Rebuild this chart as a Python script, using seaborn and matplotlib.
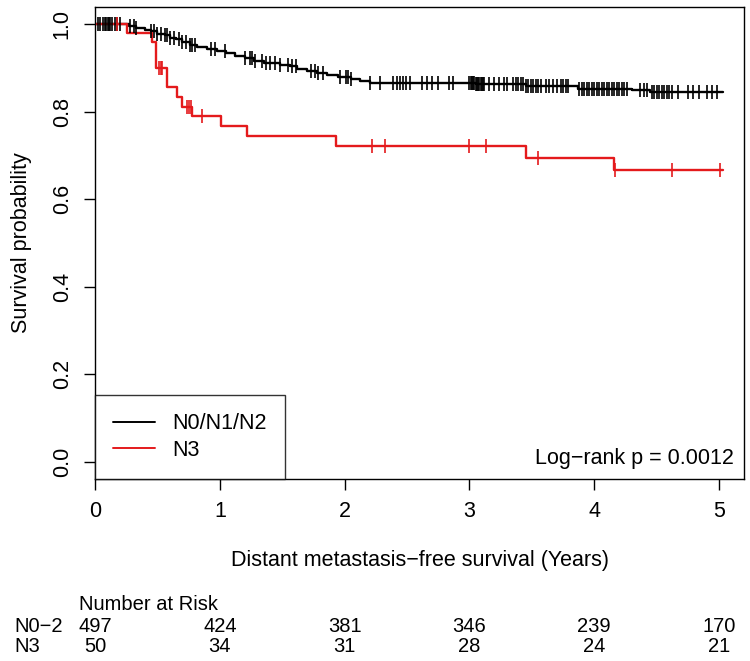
import numpy as np
import pandas as pd
import matplotlib
matplotlib.use("Agg")
from matplotlib import pyplot as plt
from matplotlib import transforms
import seaborn as sns

# Kaplan-Meier steps (time in years, survival after the step)
n02_times = [0.0, 0.27, 0.33, 0.40, 0.45, 0.50, 0.56, 0.60, 0.65, 0.70, 0.76, 0.82,
             0.90, 0.98, 1.05, 1.12, 1.20, 1.27, 1.35, 1.48, 1.56, 1.62, 1.70, 1.78,
             1.86, 1.95, 2.05, 2.12, 2.20, 3.05, 3.45, 3.87, 4.30, 4.45, 5.03]
n02_surv = [1.0, 0.996, 0.992, 0.988, 0.984, 0.979, 0.975, 0.970, 0.966, 0.961, 0.953, 0.949,
            0.945, 0.940, 0.935, 0.929, 0.923, 0.917, 0.911, 0.908, 0.904, 0.899, 0.894, 0.889,
            0.885, 0.880, 0.875, 0.871, 0.866, 0.863, 0.860, 0.853, 0.849, 0.846, 0.846]

n3_times = [0.0, 0.26, 0.46, 0.49, 0.58, 0.66, 0.70, 0.78, 1.01, 1.22, 1.93, 3.45, 4.16, 5.03]
n3_surv = [1.0, 0.98, 0.96, 0.90, 0.856, 0.834, 0.812, 0.790, 0.768, 0.745, 0.722, 0.694, 0.667, 0.667]

# censoring times
n02_censor = [0.02, 0.04, 0.06, 0.08, 0.09, 0.10, 0.11, 0.12, 0.14, 0.16, 0.18, 0.20,
              0.28, 0.31, 0.33, 0.45, 0.47, 0.50, 0.53, 0.56, 0.58, 0.60,
              0.63, 0.67, 0.70, 0.73, 0.76, 0.78, 0.80, 0.93, 0.96, 1.04,
              1.20, 1.24, 1.26, 1.28, 1.34, 1.37, 1.40, 1.44, 1.48, 1.55, 1.58, 1.61,
              1.73, 1.76, 1.79, 1.83, 1.96, 2.01, 2.03, 2.05, 2.20, 2.28,
              2.39, 2.42, 2.44, 2.47, 2.49, 2.52, 2.62, 2.66, 2.70, 2.75, 2.84, 2.87,
              3.00, 3.01, 3.02, 3.03, 3.04, 3.05, 3.06, 3.07, 3.08, 3.09, 3.10, 3.11, 3.12,
              3.16, 3.20, 3.24, 3.28, 3.30, 3.35, 3.37, 3.39, 3.41, 3.43, 3.45, 3.47,
              3.49, 3.51, 3.53, 3.55, 3.57, 3.61, 3.64, 3.67, 3.70, 3.73, 3.75, 3.77, 3.79,
              3.88, 3.90, 3.92, 3.94, 3.96, 3.98, 4.00, 4.02, 4.04, 4.06, 4.08, 4.10,
              4.12, 4.14, 4.16, 4.18, 4.20, 4.22, 4.24, 4.26, 4.37, 4.40, 4.42,
              4.46, 4.48, 4.50, 4.52, 4.54, 4.56, 4.58, 4.60, 4.62, 4.67,
              4.75, 4.79, 4.84, 4.90, 4.94, 4.98]
n3_censor = [0.18, 0.51, 0.53, 0.54, 0.74, 0.75, 0.77, 0.86, 2.22, 2.32,
             3.00, 3.13, 3.55, 4.17, 4.62, 5.01]

groups = ["N0/N1/N2", "N3"]
colors = ["black", "#e41a1c"]

risk_times = [0, 1, 2, 3, 4, 5]
risk_labels = ["N0\u22122", "N3"]
risk_n02 = [497, 424, 381, 346, 239, 170]
risk_n3 = [50, 34, 31, 28, 24, 21]

p_text = "Log\u2212rank p = 0.0012"


def step_value(times, surv, t):
    idx = np.searchsorted(times, t, side="right") - 1
    return np.asarray(surv)[idx]


curve_df = pd.concat([
    pd.DataFrame({"time": n02_times, "surv": n02_surv, "group": groups[0]}),
    pd.DataFrame({"time": n3_times, "surv": n3_surv, "group": groups[1]}),
])
censor_df = pd.concat([
    pd.DataFrame({"time": n02_censor, "surv": step_value(n02_times, n02_surv, n02_censor),
                  "group": groups[0]}),
    pd.DataFrame({"time": n3_censor, "surv": step_value(n3_times, n3_surv, n3_censor),
                  "group": groups[1]}),
])

sns.set_style("white")
plt.rcParams["font.family"] = ["Liberation Sans", "DejaVu Sans"]
plt.rcParams["text.color"] = "black"
plt.rcParams["axes.labelcolor"] = "black"
plt.rcParams["xtick.color"] = "black"
plt.rcParams["ytick.color"] = "black"

fig = plt.figure(figsize=(7.5, 6.61), dpi=100)
ax = fig.add_axes([0.1267, 0.2753, 0.8653, 0.7141])

palette = dict(zip(groups, colors))
sns.lineplot(data=curve_df, x="time", y="surv", hue="group", palette=palette,
             drawstyle="steps-post", estimator=None, linewidth=1.7, ax=ax, legend=False)
for g in groups:
    sub = censor_df[censor_df["group"] == g]
    ax.plot(sub["time"], sub["surv"], linestyle="none", marker="|",
            markersize=10, markeredgewidth=1.2, color=palette[g])

ax.set_xlim(0, 5.2)
ax.set_ylim(-0.04, 1.04)
ax.set_xticks(range(6))
ax.set_yticks([0.0, 0.2, 0.4, 0.6, 0.8, 1.0])
ax.set_yticklabels(["0.0", "0.2", "0.4", "0.6", "0.8", "1.0"], rotation=90, va="center")
ax.tick_params(axis="both", direction="out", length=8, width=1, labelsize=15.5,
               pad=8, colors="black", bottom=True, left=True)
for s in ax.spines.values():
    s.set_color("black")
    s.set_linewidth(1)

ax.set_xlabel("Distant metastasis\u2212free survival (Years)", fontsize=15.5, labelpad=20)
ax.set_ylabel("Survival probability", fontsize=15.5, labelpad=14)

handles = [plt.Line2D([], [], color=c, lw=1.4) for c in colors]
leg = ax.legend(handles, groups, loc="lower left", bbox_to_anchor=(0, 0), borderaxespad=0,
                fontsize=15.5, frameon=True, fancybox=False, edgecolor="black",
                handlelength=1.95, handletextpad=0.8, borderpad=0.85, labelspacing=0.25)
leg.get_frame().set_linewidth(1)

ax.text(0.985, 0.043, p_text, transform=ax.transAxes, ha="right", va="center", fontsize=15.5)

# number at risk table
tr = transforms.blended_transform_factory(ax.transData, fig.transFigure)
fig.text(79 / 750, 1 - 604 / 661, "Number at Risk", fontsize=14.5, va="center", ha="left")
for label, row, y in zip(risk_labels, [risk_n02, risk_n3], [626, 646]):
    fig.text(14 / 750, 1 - y / 661, label, fontsize=14.5, va="center", ha="left")
    for t, n in zip(risk_times, row):
        ax.text(t, 1 - y / 661, str(n), transform=tr, fontsize=14.5, va="center", ha="center")

fig.savefig("out.png", dpi=100)
